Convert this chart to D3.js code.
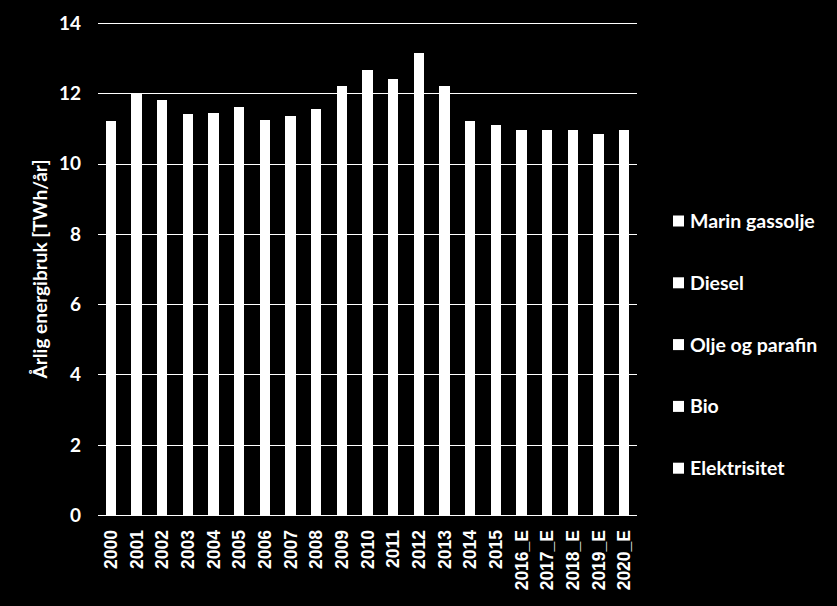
<!DOCTYPE html>
<html>
<head>
<meta charset="utf-8">
<script src="https://cdn.jsdelivr.net/npm/d3@7/dist/d3.min.js"></script>
<style>
  html, body { margin: 0; padding: 0; background: #000; }
  svg { display: block; }
</style>
</head>
<body>
<svg id="chart" width="837" height="606"></svg>
<script>
const categories = ["2000","2001","2002","2003","2004","2005","2006","2007","2008","2009","2010",
  "2011","2012","2013","2014","2015","2016_E","2017_E","2018_E","2019_E","2020_E"];
const seriesNames = ["Elektrisitet","Bio","Olje og parafin","Diesel","Marin gassolje"];
const elektrisitet = [0.2,0.2,0.2,0.2,0.2,0.2,0.2,0.2,0.2,0.2,0.2,0.2,0.2,0.2,0.2,0.2,0.2,0.2,0.2,0.2,0.2];
const bio = [0,0,0,0,0,0,0,0,0.05,0.05,0.1,0.1,0.1,0.1,0.1,0.1,0.15,0.15,0.2,0.2,0.25];
const oljeParafin = [0.6,0.6,0.55,0.55,0.5,0.5,0.5,0.45,0.45,0.45,0.45,0.4,0.4,0.4,0.35,0.35,0.35,0.3,0.3,0.3,0.3];
const diesel = [1.4,1.5,1.5,1.45,1.5,1.5,1.45,1.5,1.55,1.6,1.6,1.6,1.65,1.6,1.55,1.55,1.5,1.5,1.45,1.45,1.4];
const marinGassolje = [9.0,9.7,9.55,9.2,9.25,9.4,9.1,9.2,9.3,9.9,10.3,10.1,10.8,9.9,9.0,8.9,8.75,8.8,8.8,8.7,8.8];
const yTicks = [0,2,4,6,8,10,12,14];
const yTitle = "Årlig energibruk [TWh/år]";

const seriesValues = [elektrisitet, bio, oljeParafin, diesel, marinGassolje];
const table = categories.map((c, i) => {
  const row = { cat: c };
  seriesNames.forEach((s, k) => row[s] = seriesValues[k][i]);
  return row;
});

const svg = d3.select("#chart");
const W = 837, H = 606;
svg.append("rect").attr("width", W).attr("height", H).attr("fill", "#000");

const plot = { left: 98, right: 637, top: 23, bottom: 515 };
const uiFont = "Lato, 'Open Sans', sans-serif";

const x = d3.scaleBand().domain(categories).range([plot.left, plot.right]).paddingInner(0.6).paddingOuter(0.3);
const y = d3.scaleLinear().domain([0, 14]).range([plot.bottom, plot.top]);

// gridlines
svg.append("g").selectAll("line").data(yTicks.filter(t => t > 0)).join("line")
  .attr("x1", plot.left).attr("x2", plot.right)
  .attr("y1", d => Math.round(y(d)) + 0.5).attr("y2", d => Math.round(y(d)) + 0.5)
  .attr("stroke", "#fff").attr("stroke-width", 1);

// stacked bars
const stack = d3.stack().keys(seriesNames);
const stacked = stack(table);
svg.append("g").selectAll("g").data(stacked).join("g")
  .attr("fill", "#fff")
  .selectAll("rect").data(d => d).join("rect")
  .attr("shape-rendering", "crispEdges")
  .attr("x", d => x(d.data.cat))
  .attr("width", x.bandwidth())
  .attr("y", d => y(d[1]))
  .attr("height", d => Math.max(0, y(d[0]) - y(d[1])));

// x axis line
svg.append("line").attr("x1", plot.left).attr("x2", plot.right)
  .attr("y1", plot.bottom + 0.5).attr("y2", plot.bottom + 0.5)
  .attr("stroke", "#fff").attr("stroke-width", 1.2);

// y tick labels
svg.append("g").selectAll("text").data(yTicks).join("text")
  .attr("x", 81).attr("y", d => y(d)).attr("dy", "0.36em")
  .attr("text-anchor", "end").attr("fill", "#fff")
  .attr("font-family", uiFont).attr("font-weight", "bold").attr("font-size", 19)
  .text(d => d);

// x tick labels
svg.append("g").selectAll("text").data(categories).join("text")
  .attr("transform", d => `translate(${x(d) + x.bandwidth() / 2},530) rotate(-90)`)
  .attr("dy", "0.36em")
  .attr("text-anchor", "end").attr("fill", "#fff")
  .attr("font-family", "'Liberation Sans', Arial, sans-serif").attr("font-weight", "bold").attr("font-size", 17.5)
  .text(d => d);

// y title
svg.append("text")
  .attr("transform", `translate(40,${(plot.top + plot.bottom) / 2}) rotate(-90)`)
  .attr("dy", "0.35em")
  .attr("text-anchor", "middle").attr("fill", "#fff")
  .attr("font-family", uiFont).attr("font-weight", "bold").attr("font-size", 19)
  .text(yTitle);

// legend (reverse order: top series first)
const legendNames = seriesNames.slice().reverse();
const lg = svg.append("g").selectAll("g").data(legendNames).join("g")
  .attr("transform", (d, i) => `translate(673,${221 + i * 61.8})`);
lg.append("rect").attr("x", 0).attr("y", -5.5).attr("width", 11).attr("height", 11).attr("fill", "#fff");
lg.append("text").attr("x", 17).attr("y", 0).attr("dy", "0.36em")
  .attr("fill", "#fff")
  .attr("font-family", uiFont).attr("font-weight", "bold").attr("font-size", 19.5)
  .text(d => d);
</script>
</body>
</html>
